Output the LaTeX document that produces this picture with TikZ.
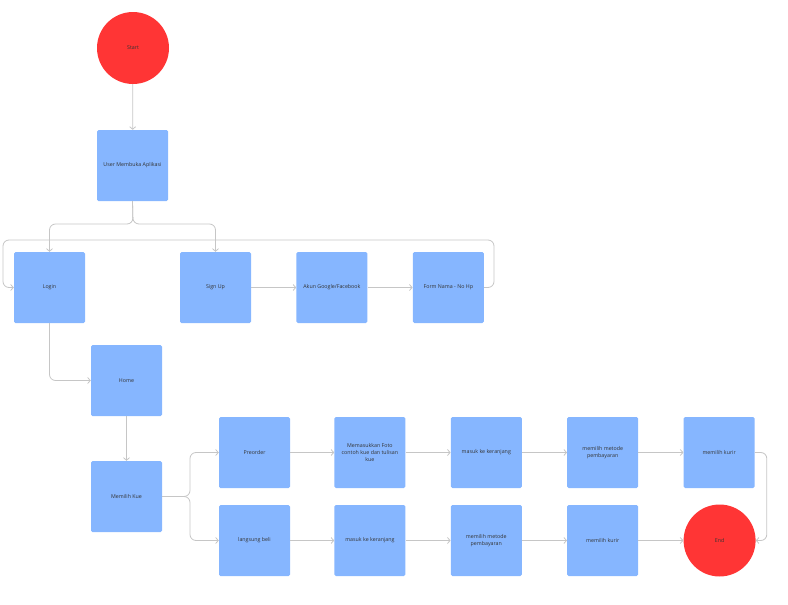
\documentclass[tikz,border=0pt]{standalone}
\usepackage{fontspec}
\setmainfont{Open Sans}
\usetikzlibrary{
  arrows.meta, % For arrow tips
  positioning % For relative placement
}

\definecolor{boxblue}{HTML}{86B6FF}
\definecolor{termred}{HTML}{FF3535}
\definecolor{linegray}{HTML}{C6C6C6}
\definecolor{txtdark}{HTML}{333333}

\begin{document}
\begin{tikzpicture}[
      x=1pt, y=-1pt, % Pixel-like units, y downwards
      >={Straight Barb[length=2.6pt, width=6pt]}, % Default arrow tip
      every node/.style={font=\fontsize{5.3}{7}\selectfont, text=txtdark, align=center},
      stepbox/.style={fill=boxblue, draw=none, rounded corners=1.5pt,
        minimum width=71pt, minimum height=71pt, inner sep=2pt},
      terminal/.style={circle, fill=termred, draw=none, minimum size=72pt, inner sep=0pt},
      link/.style={draw=linegray, line width=0.8pt, ->, rounded corners=6pt},
      node distance=45pt,
    ]
    \useasboundingbox (0,0) rectangle (788,605);

    % Awal dan aplikasi
    \node[terminal] (start) at (133,48) {Start};
    \node[stepbox] (user) at (132.5,165.5) {User Membuka Aplikasi};

    % Login / Sign Up
    \node[stepbox] (login) at (49.5,287.5) {Login};
    \node[stepbox] (signup) at (215.5,287.5) {Sign Up};
    \node[stepbox, right=of signup] (akun) {Akun Google/Facebook};
    \node[stepbox, right=of akun] (form) {Form Nama - No Hp};

    % Home dan pilihan kue
    \node[stepbox] (home) at (126.5,380.5) {Home};
    \node[stepbox] (kue) at (126.5,496.5) {Memilih Kue};

    % Baris atas: preorder
    \node[stepbox] (preorder) at (254.5,452.5) {Preorder};
    \node[stepbox, right=44pt of preorder] (foto) {Memasukkan Foto\\contoh kue dan tulisan\\kue};
    \node[stepbox, right=of foto] (keranjangA) {masuk ke keranjang};
    \node[stepbox, right=of keranjangA] (metodeA) {memilih metode\\pembayaran};
    \node[stepbox, right=of metodeA] (kurirA) {memilih kurir};

    % Baris bawah: langsung beli
    \node[stepbox] (beli) at (254.5,540.5) {langsung beli};
    \node[stepbox, right=44pt of beli] (keranjangB) {masuk ke keranjang};
    \node[stepbox, right=of keranjangB] (metodeB) {memilih metode\\pembayaran};
    \node[stepbox, right=of metodeB] (kurirB) {memilih kurir};
    \node[terminal, right=of kurirB] (stop) {End};

    % Titik bantu
    \coordinate (split) at (133,224);
    \coordinate (loopR) at (494,240);
    \coordinate (loopL) at (3,240);
    \coordinate (fork) at (190,496.5);

    % Alur
    \draw[link] (start) -- (user);
    \draw[link] (user.south) -- (split) -| (login.north);
    \draw[link] (user.south) -- (split) -| (signup.north);
    \draw[link] (signup) -- (akun);
    \draw[link] (akun) -- (form);
    \draw[link] (form.east) -| (loopR) -- (loopL) |- (login.west);
    \draw[link] (login.south) |- (home.west);
    \draw[link] (home) -- (kue);
    \draw[link] (kue.east) -- (fork) |- (preorder.west);
    \draw[link] (kue.east) -- (fork) |- (beli.west);

    % Baris atas
    \foreach \i/\j in {preorder/foto, foto/keranjangA, keranjangA/metodeA, metodeA/kurirA}
    \draw[link] (\i) -- (\j);
    \draw[link] (kurirA.east) -- ++(12,0) |- (stop.east);

    % Baris bawah
    \foreach \i/\j in {beli/keranjangB, keranjangB/metodeB, metodeB/kurirB, kurirB/stop}
    \draw[link] (\i) -- (\j);
  \end{tikzpicture}
\end{document}
